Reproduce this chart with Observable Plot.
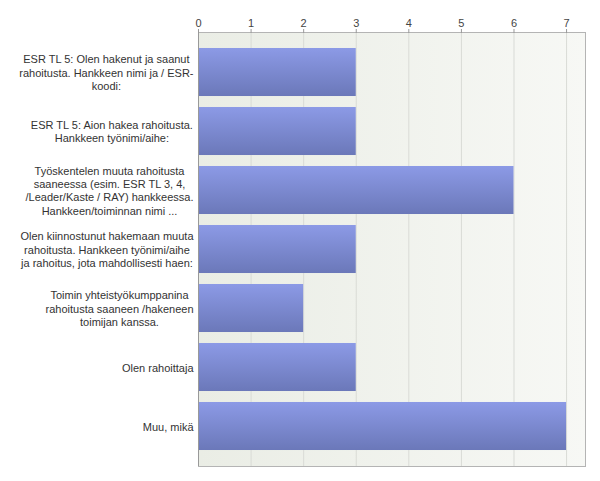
<!DOCTYPE html>
<html>
<head>
<meta charset="utf-8">
<script src="https://cdn.jsdelivr.net/npm/d3@7"></script>
<script src="https://cdn.jsdelivr.net/npm/@observablehq/plot@0.6"></script>
<style>
  html, body { margin: 0; padding: 0; background: #ffffff; }
</style>
</head>
<body>
<div id="chart"></div>
<script>
const categories = [
  "ESR TL 5: Olen hakenut ja saanut rahoitusta. Hankkeen nimi ja / ESR-koodi:",
  "ESR TL 5: Aion hakea rahoitusta. Hankkeen työnimi/aihe:",
  "Työskentelen muuta rahoitusta saaneessa (esim. ESR TL 3, 4, /Leader/Kaste / RAY) hankkeessa. Hankkeen/toiminnan nimi ...",
  "Olen kiinnostunut hakemaan muuta rahoitusta. Hankkeen työnimi/aihe ja rahoitus, jota mahdollisesti haen:",
  "Toimin yhteistyökumppanina rahoitusta saaneen /hakeneen toimijan kanssa.",
  "Olen rahoittaja",
  "Muu, mikä"
];
const labelLines = [
  ["ESR TL 5: Olen hakenut ja saanut", "rahoitusta. Hankkeen nimi ja / ESR-", "koodi:"],
  ["ESR TL 5: Aion hakea rahoitusta.", "Hankkeen työnimi/aihe:"],
  ["Työskentelen muuta rahoitusta", "saaneessa (esim. ESR TL 3, 4,", "/Leader/Kaste / RAY) hankkeessa.", "Hankkeen/toiminnan nimi ..."],
  ["Olen kiinnostunut hakemaan muuta", "rahoitusta. Hankkeen työnimi/aihe", "ja rahoitus, jota mahdollisesti haen:"],
  ["Toimin yhteistyökumppanina", "rahoitusta saaneen /hakeneen", "toimijan kanssa."],
  ["Olen rahoittaja"],
  ["Muu, mikä"]
];
const values = [3, 3, 6, 3, 2, 3, 7];
const xTicks = [0, 1, 2, 3, 4, 5, 6, 7];
const xMax = 7.36;

const data = categories.map((c, i) => ({cat: c, value: values[i], lines: labelLines[i]}));

const fontFamily = "'Liberation Sans', Arial, sans-serif";
const ctx = document.createElement("canvas").getContext("2d");
ctx.font = "11px " + fontFamily;

const defs = () => {
  const g = d3.create("svg:defs");
  const bar = g.append("linearGradient").attr("id", "barGrad").attr("x1", 0).attr("y1", 0).attr("x2", 0).attr("y2", 1);
  bar.append("stop").attr("offset", "0%").attr("stop-color", "#8c9ae6");
  bar.append("stop").attr("offset", "100%").attr("stop-color", "#6b78b9");
  const bg = g.append("linearGradient").attr("id", "bgGrad").attr("x1", 0).attr("y1", 0).attr("x2", 1).attr("y2", 0);
  bg.append("stop").attr("offset", "0%").attr("stop-color", "#eaede5");
  bg.append("stop").attr("offset", "100%").attr("stop-color", "#f7f8f5");
  return g.node();
};

const labelMarks = data.map(d => {
  const maxW = Math.max(...d.lines.map(l => ctx.measureText(l).width));
  return Plot.text([d], {
    y: "cat",
    text: r => r.lines.join("\n"),
    frameAnchor: "left",
    textAnchor: "middle",
    lineAnchor: "middle",
    lineHeight: 1.21,
    dx: -5 - maxW / 2,
    fill: "#333",
    fontSize: 11
  });
});

const chart = Plot.plot({
  width: 600,
  height: 481,
  marginLeft: 198,
  marginRight: 15,
  marginTop: 32,
  marginBottom: 15,
  style: {fontFamily: fontFamily, fontSize: "11px", background: "#ffffff"},
  x: {domain: [0, xMax], axis: null, label: null},
  y: {domain: categories, paddingInner: 0.186, paddingOuter: 0.271, round: false, axis: null, label: null},
  marks: [
    defs,
    Plot.frame({fill: "url(#bgGrad)", stroke: null}),
    Plot.gridX(xTicks, {stroke: "#d9dbd6", strokeOpacity: 1}),
    Plot.barX(data, {x: "value", y: "cat", fill: "url(#barGrad)"}),
    Plot.frame({stroke: "#b4b4b4"}),
    Plot.ruleX([0], {stroke: "#999"}),
    Plot.axisX({anchor: "top", ticks: xTicks, tickSize: 4, tickPadding: 2, stroke: "#999", fill: "#444", fontSize: 11, label: null, tickFormat: d => String(d)}),
    ...labelMarks
  ]
});
document.getElementById("chart").appendChild(chart);
</script>
</body>
</html>
